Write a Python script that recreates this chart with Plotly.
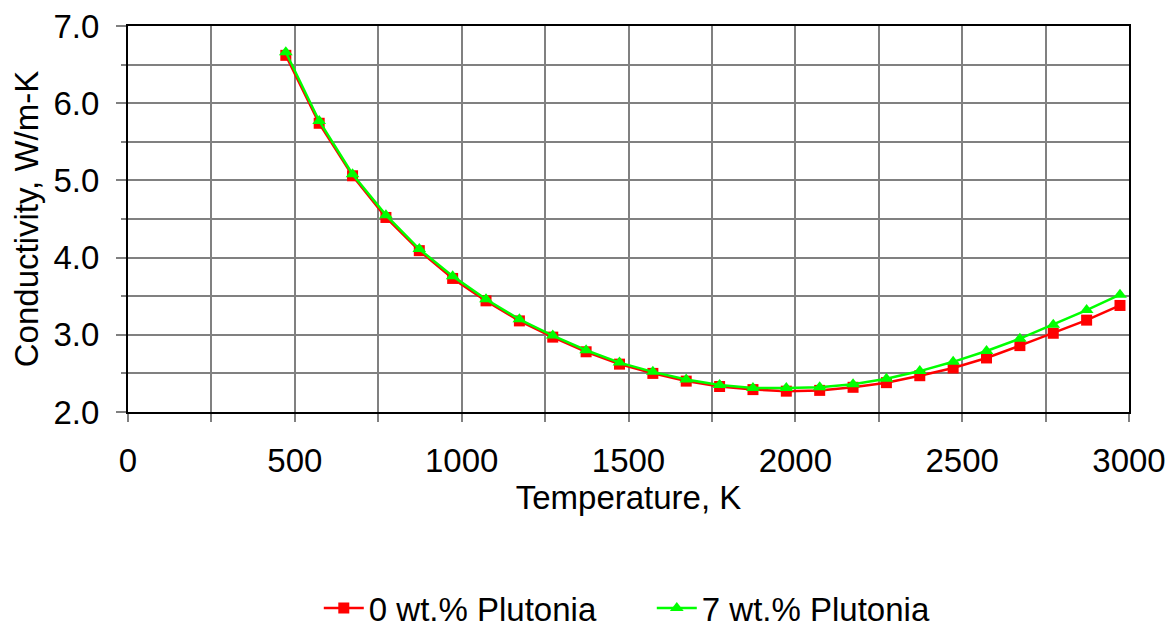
import plotly.graph_objects as go

temperature_K = [473, 573, 673, 773, 873, 973, 1073, 1173, 1273, 1373, 1473, 1573, 1673,
                 1773, 1873, 1973, 2073, 2173, 2273, 2373, 2473, 2573, 2673, 2773, 2873, 2973]
k_0pct_pu = [6.62, 5.74, 5.06, 4.52, 4.09, 3.73, 3.44, 3.18, 2.97, 2.78, 2.62, 2.50, 2.40,
             2.33, 2.29, 2.27, 2.28, 2.32, 2.38, 2.47, 2.57, 2.70, 2.86, 3.02, 3.19, 3.38]
k_7pct_pu = [6.66, 5.77, 5.08, 4.55, 4.11, 3.76, 3.46, 3.20, 2.99, 2.80, 2.64, 2.52, 2.42,
             2.35, 2.31, 2.31, 2.32, 2.36, 2.43, 2.53, 2.65, 2.79, 2.95, 3.13, 3.32, 3.52]
series_names = ["0 wt.% Plutonia", "7 wt.% Plutonia"]

FONT = "Liberation Sans, Arial, sans-serif"
FS = 33

fig = go.Figure()
fig.add_trace(go.Scatter(
    x=temperature_K, y=k_0pct_pu, name=series_names[0], mode="lines+markers",
    line=dict(color="#FF0000", width=2.5),
    marker=dict(symbol="square", size=11, color="#FF0000"),
))
fig.add_trace(go.Scatter(
    x=temperature_K, y=k_7pct_pu, name=series_names[1], mode="lines+markers",
    line=dict(color="#00FF00", width=2.5),
    marker=dict(symbol="triangle-up", size=12, color="#00FF00"),
))

fig.update_layout(
    width=1166, height=628,
    margin=dict(l=128, r=37, t=26, b=216, autoexpand=False),
    paper_bgcolor="white", plot_bgcolor="white",
    font=dict(family=FONT, size=FS, color="black"),
    showlegend=True,
    legend=dict(orientation="h", x=0.559, xanchor="center", xref="container",
                y=-0.508, yanchor="middle", yref="paper",
                font=dict(size=FS), traceorder="normal", itemwidth=40,
                entrywidth=278, entrywidthmode="pixels", bgcolor="rgba(0,0,0,0)"),
    xaxis=dict(
        range=[0, 3000], dtick=500, tick0=0, automargin=False,
        showline=True, linecolor="black", linewidth=2, mirror=True,
        showgrid=True, gridcolor="#808080", gridwidth=2,
        ticks="outside", ticklen=8, tickwidth=2, tickcolor="#808080",
        minor=dict(dtick=250, showgrid=True, gridcolor="#808080", gridwidth=2,
                   ticks="outside", ticklen=8, tickwidth=2, tickcolor="#808080"),
        ticklabelstandoff=10,
        title=dict(text="Temperature, K", standoff=4, font=dict(size=FS)),
        zeroline=False,
    ),
    yaxis=dict(
        range=[2, 7], dtick=1, tick0=2, tickformat=".1f", automargin=False,
        showline=True, linecolor="black", linewidth=2, mirror=True,
        showgrid=True, gridcolor="#808080", gridwidth=2,
        ticks="outside", ticklen=10, tickwidth=2, tickcolor="#808080",
        minor=dict(dtick=0.5, showgrid=True, gridcolor="#808080", gridwidth=2,
                   ticks="outside", ticklen=5, tickwidth=2, tickcolor="#808080"),
        ticklabelstandoff=10,
        title=dict(text="Conductivity, W/m-K", standoff=5, font=dict(size=FS)),
        zeroline=False,
    ),
)

fig.write_html("out.html")
